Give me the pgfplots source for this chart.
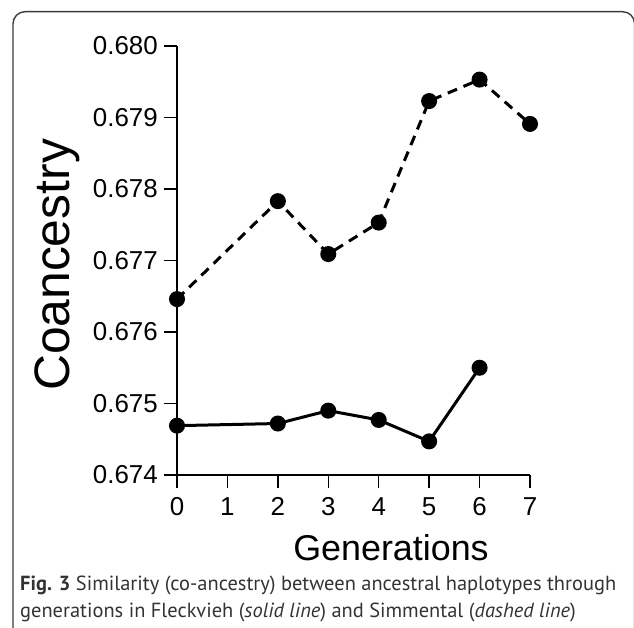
\documentclass[border=0pt]{standalone}
\usepackage{pgfplots}
\pgfplotsset{compat=1.18}
\usepackage{fontspec}
\setmainfont{Liberation Sans}
\newfontfamily\capfont{PT Sans}
\definecolor{capgray}{HTML}{333333}
\definecolor{framegray}{HTML}{3A3A3A}
\begin{document}
\begin{tikzpicture}
\useasboundingbox (0,0) rectangle (634bp,628bp);
\draw[framegray, line width=1.4bp, rounded corners=12bp] (13bp,-2bp) -- (13bp,616.3bp) -- (634.6bp,616.3bp) -- (634.6bp,-2bp);
\begin{axis}[
  at={(177bp,153bp)}, anchor=south west,
  scale only axis, width=353bp, height=429bp,
  xmin=0, xmax=7, ymin=0.674, ymax=0.680,
  axis lines=left, axis line style={-, line width=1.3bp},
  every tick/.style={black, line width=1.3bp},
  tick align=outside, major tick length=13bp,
  xtick={0,1,2,3,4,5,6,7},
  ytick={0.674,0.675,0.676,0.677,0.678,0.679,0.680},
  yticklabels={0.674,0.675,0.676,0.677,0.678,0.679,0.680},
  scaled y ticks=false,
  /pgf/number format/assume math mode=true,
  tick label style={font=\fontsize{26}{30}\selectfont},
  yticklabel style={inner sep=0pt, xshift=-6bp},
  xticklabel style={inner sep=0pt, yshift=-9bp},
  clip=false,
]
\addplot[black, line width=3bp, dash pattern=on 10bp off 7bp, mark=*, mark size=6.5bp, mark options={solid}]
  coordinates {(0,0.67646) (2,0.67783) (3,0.67709) (4,0.67753) (5,0.67923) (6,0.67953) (7,0.67891)};
\addplot[black, line width=3bp, mark=*, mark size=6.5bp, mark options={solid}]
  coordinates {(0,0.67469) (2,0.67472) (3,0.67490) (4,0.67477) (5,0.67447) (6,0.67550)};
\end{axis}
\node[rotate=90, font=\fontsize{50}{56}\selectfont, inner sep=0pt] at (57bp,363bp) {Coancestry};
\node[font=\fontsize{36}{42}\selectfont, inner sep=0pt] at (391bp,80bp) {Generations};
\node[anchor=north west, inner sep=0pt, text=capgray] at (20bp,55bp) {\resizebox{596bp}{!}{\capfont\begin{tabular}{@{}l@{}}\textbf{Fig. 3} Similarity (co-ancestry) between ancestral haplotypes through\\[1.5pt] generations in Fleckvieh (\textit{solid line}) and Simmental (\textit{dashed line})\end{tabular}}};
\end{tikzpicture}
\end{document}
